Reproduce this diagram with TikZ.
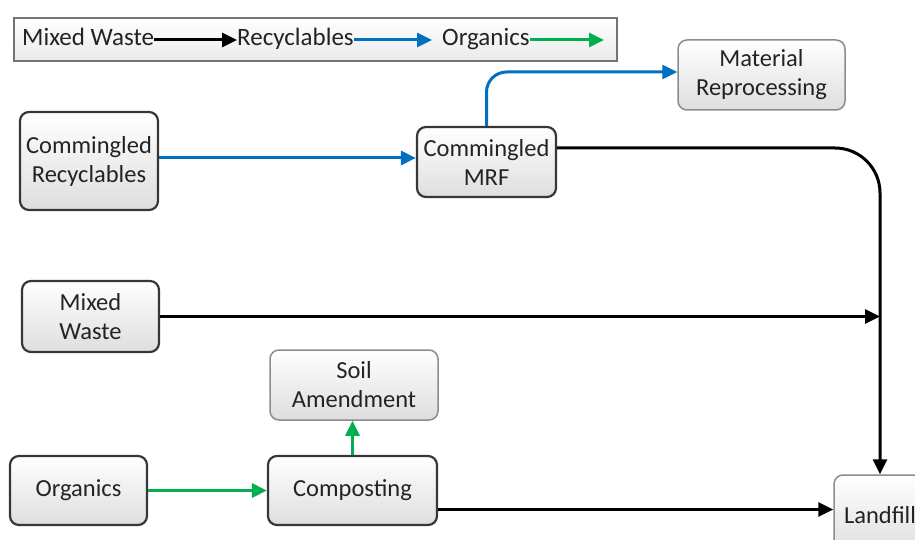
\documentclass[tikz,border=0pt]{standalone}
\usepackage{fontspec}
\setmainfont{Carlito}
\usetikzlibrary{arrows.meta}
\definecolor{rblue}{RGB}{0,112,192}
\definecolor{ogreen}{RGB}{0,176,80}
\definecolor{txt}{RGB}{35,35,35}
\definecolor{bord}{RGB}{55,55,55}
\definecolor{lbord}{RGB}{140,140,140}
\begin{document}
\begin{tikzpicture}[x=1pt,y=-1pt,
 box/.style={draw=bord, line width=2.2pt, rounded corners=9pt, top color=white, bottom color=black!13, text=txt, align=center, font=\fontsize{24.5}{29}\selectfont, inner sep=0pt},
 lbox/.style={box, draw=lbord, line width=1.5pt},
 ltext/.style={text=txt, font=\fontsize{25}{29}\selectfont, inner sep=0pt, anchor=west, text height=15pt, text depth=3pt},
 arr/.style={line width=3pt, -{Triangle[length=15pt,width=14pt]}},
]
\useasboundingbox (0,0) rectangle (915,540);
% legend
\node[draw=black!55, line width=1.4pt, top color=white, bottom color=black!8, minimum width=603pt, minimum height=43pt, inner sep=0pt] (legend) at (315.5,39.5) {};
\node[ltext] (lmw) at (22,40) {Mixed Waste};
\node[ltext] (lrc) at (237,40) {Recyclables};
\node[ltext] (lorg) at (442,40) {Organics};
\coordinate (lend) at (604,40);
\draw[arr] (lmw.east) -- (lrc.west);
\draw[arr, rblue] (lrc.east) -- ([xshift=-10pt]lorg.west);
\draw[arr, ogreen] (lorg.east) -- (lend);
% nodes
\node[box, minimum width=138pt, minimum height=98pt] (cr) at (89,161) {Commingled\\Recyclables};
\node[box, minimum width=139pt, minimum height=70pt] (mrf) at (486.5,162) {Commingled\\MRF};
\node[lbox, minimum width=167pt, minimum height=70pt] (mat) at (761.5,75) {Material\\Reprocessing};
\node[box, minimum width=137pt, minimum height=71pt] (mw) at (90.5,316.5) {Mixed\\Waste};
\node[lbox, minimum width=168pt, minimum height=70pt] (soil) at (354,385) {Soil\\Amendment};
\node[box, minimum width=137pt, minimum height=69pt] (org) at (78.5,490.5) {Organics};
\node[box, minimum width=169pt, minimum height=69pt] (comp) at (352.5,490.5) {Composting};
\node[lbox, minimum width=92pt, minimum height=80pt] (land) at (880,515) {Landfill};
% connectors
\coordinate (b1) at ([yshift=3pt]cr.east);
\draw[arr, rblue] (b1) -- (b1 -| mrf.west);
\draw[arr, rblue, rounded corners=20pt] (mrf.north) |- ([yshift=3pt]mat.west);
\draw[arr, rounded corners=45pt] ([yshift=14pt]mrf.east) -| (land.north);
\draw[arr] (mw.east) -- (land.north |- mw.east);
\draw[arr, ogreen] (comp.north) -- (comp.north |- soil.south);
\draw[arr, ogreen] (org.east) -- (comp.west);
\coordinate (c1) at ([yshift=-19pt]comp.east);
\draw[arr] (c1) -- (c1 -| land.west);
\end{tikzpicture}
\end{document}
